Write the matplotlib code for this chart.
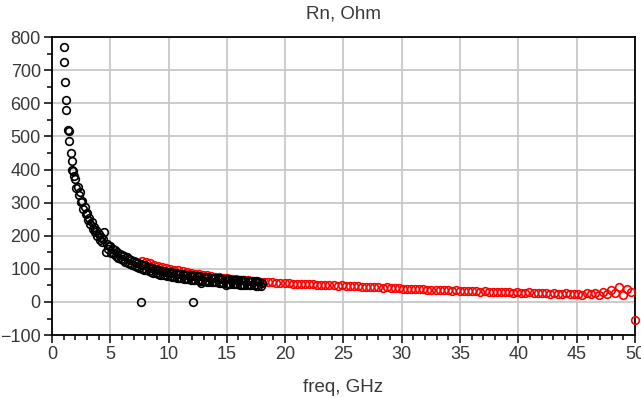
import matplotlib.pyplot as plt
from matplotlib.ticker import MultipleLocator

# measured Rn (black) - first points are irregular, then 0.1 GHz sweep
black_freq = [1.05, 1.05, 1.1, 1.2, 1.25, 1.4, 1.45, 1.5, 1.6, 1.7, 1.75, 1.8, 1.9,
              2.0, 2.1, 2.2, 2.3, 2.4, 2.5, 2.6, 2.7, 2.8, 2.9,
              3.0, 3.1, 3.2, 3.3, 3.4, 3.5, 3.6, 3.7, 3.8, 3.9,
              4.0, 4.1, 4.2, 4.3, 4.4, 4.5, 4.6, 4.7, 4.8, 4.9,
              5.0, 5.1, 5.2, 5.3, 5.4, 5.5, 5.6, 5.7, 5.8, 5.9,
              6.0, 6.1, 6.2, 6.3, 6.4, 6.5, 6.6, 6.7, 6.8, 6.9,
              7.0, 7.1, 7.2, 7.3, 7.4, 7.5, 7.6, 7.7, 7.8, 7.9,
              8.0, 8.1, 8.2, 8.3, 8.4, 8.5, 8.6, 8.7, 8.8, 8.9,
              9.0, 9.1, 9.2, 9.3, 9.4, 9.5, 9.6, 9.7, 9.8, 9.9,
              10.0, 10.1, 10.2, 10.3, 10.4, 10.5, 10.6, 10.7, 10.8, 10.9,
              11.0, 11.1, 11.2, 11.3, 11.4, 11.5, 11.6, 11.7, 11.8, 11.9,
              12.0, 12.1, 12.2, 12.3, 12.4, 12.5, 12.6, 12.7, 12.8, 12.9,
              13.0, 13.1, 13.2, 13.3, 13.4, 13.5, 13.6, 13.7, 13.8, 13.9,
              14.0, 14.1, 14.2, 14.3, 14.4, 14.5, 14.6, 14.7, 14.8, 14.9,
              15.0, 15.1, 15.2, 15.3, 15.4, 15.5, 15.6, 15.7, 15.8, 15.9,
              16.0, 16.1, 16.2, 16.3, 16.4, 16.5, 16.6, 16.7, 16.8, 16.9,
              17.0, 17.1, 17.2, 17.3, 17.4, 17.5, 17.6, 17.7, 17.8, 17.9,
              18.0, 7.6, 12.1]
black_rn = [770, 725, 665, 610, 580, 520, 515, 485, 450, 425, 400, 395, 380,
            372, 345, 348, 324, 331, 301, 305, 282, 287, 265,
            270, 248, 254, 236, 243, 221, 226, 210, 216, 199,
            206, 188, 196, 181, 189, 212, 152, 176, 161, 168,
            168, 149, 160, 144, 156, 138, 150, 133, 146, 130,
            143, 127, 138, 122, 136, 118, 130, 115, 127, 112,
            125, 109, 121, 106, 119, 102, 115, 100, 113, 98,
            111, 96, 107, 93, 106, 90, 103, 88, 101, 87,
            100, 85, 97, 83, 95, 81, 94, 80, 92, 79,
            92, 77, 90, 76, 88, 75, 87, 73, 86, 72,
            85, 71, 84, 70, 83, 69, 82, 68, 81, 67,
            80, 67, 79, 66, 78, 65, 77, 64, 56, 63,
            76, 62, 75, 61, 74, 61, 73, 60, 73, 59,
            72, 59, 71, 58, 71, 57, 70, 57, 69, 52,
            69, 55, 68, 55, 67, 54, 67, 53, 66, 53,
            66, 52, 65, 52, 65, 51, 64, 51, 64, 50,
            63, 50, 63, 50, 62, 49, 62, 49, 61, 48,
            58, 0, 0]

# simulated / second Rn (red), 0.35 GHz sweep
red_freq = [7.7, 8.05, 8.4, 8.75, 9.1, 9.45, 9.8, 10.15, 10.5, 10.85,
            11.2, 11.55, 11.9, 12.25, 12.6, 12.95, 13.3, 13.65, 14.0, 14.35,
            14.7, 15.05, 15.4, 15.75, 16.1, 16.45, 16.8, 17.15, 17.5, 17.85,
            18.2, 18.55, 18.9, 19.25, 19.6, 19.95, 20.3, 20.65, 21.0, 21.35,
            21.7, 22.05, 22.4, 22.75, 23.1, 23.45, 23.8, 24.15, 24.5, 24.85,
            25.2, 25.55, 25.9, 26.25, 26.6, 26.95, 27.3, 27.65, 28.0, 28.35,
            28.7, 29.05, 29.4, 29.75, 30.1, 30.45, 30.8, 31.15, 31.5, 31.85,
            32.2, 32.55, 32.9, 33.25, 33.6, 33.95, 34.3, 34.65, 35.0, 35.35,
            35.7, 36.05, 36.4, 36.75, 37.1, 37.45, 37.8, 38.15, 38.5, 38.85,
            39.2, 39.55, 39.9, 40.25, 40.6, 40.95, 41.3, 41.65, 42.0, 42.35,
            42.7, 43.05, 43.4, 43.75, 44.1, 44.45, 44.8, 45.15, 45.5, 45.85,
            46.2, 46.55, 46.9, 47.25, 47.6, 47.95, 48.3, 48.65, 49.0, 49.35,
            49.7, 50.0]
red_rn = [124, 121, 117, 113, 110, 107, 104, 101, 98, 96,
          93, 91, 88, 86, 84, 82, 80, 78, 76, 75,
          73, 72, 70, 69, 67, 66, 65, 63, 62, 61,
          60, 59, 59, 58, 57, 57, 56, 55, 55, 54,
          54, 53, 53, 52, 51, 52, 50, 50, 49, 50,
          48, 48, 47, 49, 46, 45, 46, 44, 44, 43,
          44, 42, 41, 42, 40, 40, 39, 38, 39, 38,
          37, 37, 36, 37, 35, 35, 34, 36, 34, 33,
          33, 32, 33, 31, 32, 31, 30, 31, 30, 29,
          30, 28, 29, 28, 27, 29, 27, 26, 27, 26,
          25, 26, 24, 25, 27, 23, 25, 24, 22, 26,
          24, 28, 21, 31, 25, 36, 27, 46, 22, 38,
          30, -55]

plt.rcParams['font.family'] = ['Liberation Sans', 'DejaVu Sans']

fig = plt.figure(figsize=(6.41, 3.98), dpi=100)
ax = fig.add_axes([0.081, 0.158, 0.9096, 0.749])

ax.plot(red_freq, red_rn, 'o', mfc='none', mec='#ff0000', ms=5.5, mew=1.2, clip_on=False, zorder=3)
ax.plot(black_freq, black_rn, 'o', mfc='none', mec='black', ms=5.5, mew=1.2, clip_on=False, zorder=4)

ax.set_xlim(0, 50)
ax.set_ylim(-100, 800)
ax.xaxis.set_major_locator(MultipleLocator(5))
ax.xaxis.set_minor_locator(MultipleLocator(1))
ax.yaxis.set_major_locator(MultipleLocator(100))
ax.yaxis.set_minor_locator(MultipleLocator(50))
ax.grid(True, which='major', color='#c8c8c8', lw=1.3)
ax.set_axisbelow(True)

ax.tick_params(which='major', direction='out', length=6, width=1.1, labelsize=13,
               labelcolor='#383838', pad=2)
ax.tick_params(which='minor', direction='out', length=3.5, width=1.1)
for s in ax.spines.values():
    s.set_color('black')
    s.set_linewidth(1.3)

ax.set_title('Rn, Ohm', fontsize=13.5, color='#383838', pad=13.5)
ax.set_xlabel('freq, GHz', fontsize=13.5, color='#383838', labelpad=11)

fig.savefig('out.png', dpi=100)
